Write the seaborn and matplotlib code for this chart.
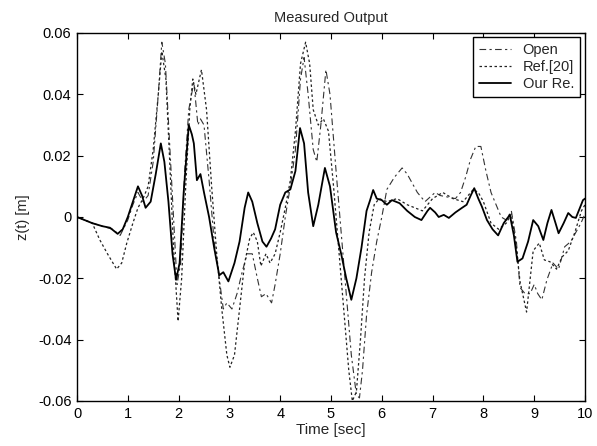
import numpy as np
import pandas as pd
import matplotlib
matplotlib.use("Agg")
import matplotlib.pyplot as plt
import seaborn as sns

# ---------------- data ----------------
t_our = [0, 0.3, 0.5, 0.65, 0.8, 0.9, 1.0, 1.1, 1.2, 1.28, 1.35, 1.45, 1.55, 1.65, 1.72,
         1.8, 1.88, 1.95, 2.02, 2.1, 2.2, 2.26, 2.3, 2.36, 2.43, 2.5, 2.6, 2.7, 2.8, 2.88,
         2.98, 3.1, 3.2, 3.3, 3.37, 3.45, 3.55, 3.65, 3.73, 3.82, 3.9, 4.0, 4.1, 4.2, 4.3,
         4.39, 4.47, 4.55, 4.65, 4.75, 4.88, 4.98, 5.1, 5.2, 5.3, 5.4, 5.5, 5.6, 5.7, 5.77,
         5.83, 5.9, 6.0, 6.1, 6.2, 6.35, 6.5, 6.65, 6.78, 6.9, 6.95, 7.05, 7.12, 7.22, 7.32,
         7.45, 7.58, 7.67, 7.75, 7.82, 7.9, 7.97, 8.07, 8.18, 8.29, 8.4, 8.52, 8.6, 8.67,
         8.77, 8.88, 8.98, 9.08, 9.18, 9.26, 9.34, 9.42, 9.48, 9.58, 9.67, 9.75, 9.82, 9.9,
         9.96, 10.0]
z_our = [0, -0.002, -0.003, -0.0035, -0.0055, -0.004, 0.0, 0.005, 0.010, 0.007, 0.003,
         0.005, 0.014, 0.024, 0.018, 0.005, -0.012, -0.0205, -0.015, 0.008, 0.030, 0.027,
         0.024, 0.012, 0.014, 0.008, 0.000, -0.010, -0.019, -0.018, -0.021, -0.015, -0.008,
         0.003, 0.008, 0.005, -0.002, -0.008, -0.0097, -0.007, -0.004, 0.004, 0.008, 0.009,
         0.015, 0.029, 0.024, 0.008, -0.003, 0.004, 0.016, 0.010, -0.005, -0.012, -0.020,
         -0.027, -0.020, -0.010, 0.002, 0.0055, 0.0088, 0.006, 0.0055, 0.004, 0.0055,
         0.0045, 0.002, 0.000, -0.001, 0.002, 0.003, 0.0015, 0.000, 0.0007, -0.0003,
         0.0015, 0.003, 0.004, 0.007, 0.0094, 0.006, 0.0034, -0.001, -0.004, -0.006,
         -0.002, 0.0007, -0.006, -0.0146, -0.0135, -0.008, -0.001, -0.003, -0.0075, -0.002,
         0.0023, -0.002, -0.0053, -0.002, 0.0013, 0.000, -0.0003, 0.003, 0.0055, 0.006]

t_open = [0, 0.3, 0.5, 0.7, 0.85, 1.0, 1.1, 1.2, 1.3, 1.4, 1.5, 1.6, 1.67, 1.74, 1.82, 1.9,
          1.97, 2.04, 2.12, 2.2, 2.3, 2.38, 2.43, 2.5, 2.6, 2.7, 2.8, 2.88, 2.95, 3.05, 3.15,
          3.25, 3.35, 3.45, 3.55, 3.63, 3.72, 3.83, 3.9, 4.0, 4.1, 4.2, 4.3, 4.4, 4.47, 4.55,
          4.65, 4.72, 4.8, 4.9, 4.98, 5.1, 5.2, 5.3, 5.4, 5.5, 5.56, 5.62, 5.7, 5.8, 5.9, 6.0,
          6.1, 6.25, 6.4, 6.5, 6.6, 6.7, 6.85, 6.95, 7.05, 7.15, 7.3, 7.45, 7.55, 7.65, 7.75,
          7.85, 7.95, 8.05, 8.15, 8.25, 8.35, 8.45, 8.55, 8.65, 8.72, 8.82, 8.92, 9.0, 9.07,
          9.15, 9.25, 9.37, 9.48, 9.6, 9.72, 9.82, 9.92, 10.0]
z_open = [0, -0.002, -0.003, -0.004, -0.006, -0.001, 0.004, 0.008, 0.005, 0.007, 0.018,
          0.040, 0.057, 0.050, 0.025, 0.000, -0.022, -0.015, 0.015, 0.035, 0.044, 0.030,
          0.032, 0.030, 0.012, -0.008, -0.020, -0.030, -0.028, -0.030, -0.025, -0.018,
          -0.012, -0.012, -0.020, -0.026, -0.025, -0.028, -0.022, -0.012, 0.000, 0.010,
          0.022, 0.045, 0.052, 0.040, 0.022, 0.018, 0.030, 0.048, 0.040, 0.015, -0.005,
          -0.025, -0.045, -0.058, -0.059, -0.050, -0.032, -0.018, -0.008, 0.000, 0.009,
          0.013, 0.016, 0.014, 0.011, 0.008, 0.005, 0.0065, 0.008, 0.007, 0.0065, 0.006,
          0.008, 0.013, 0.019, 0.023, 0.023, 0.015, 0.008, 0.004, 0.000, -0.001, 0.002,
          -0.008, -0.023, -0.025, -0.025, -0.022, -0.025, -0.027, -0.0205, -0.015, -0.017,
          -0.0097, -0.008, -0.005, -0.002, 0.001]

t_ref = [0, 0.3, 0.45, 0.6, 0.78, 0.88, 0.98, 1.1, 1.2, 1.3, 1.4, 1.5, 1.6, 1.67, 1.75,
         1.82, 1.9, 1.99, 2.06, 2.14, 2.22, 2.28, 2.34, 2.45, 2.55, 2.65, 2.75, 2.85, 2.95,
         3.01, 3.1, 3.2, 3.3, 3.4, 3.47, 3.55, 3.62, 3.72, 3.8, 3.9, 4.0, 4.1, 4.2, 4.3, 4.4,
         4.5, 4.58, 4.65, 4.75, 4.85, 4.95, 5.05, 5.15, 5.25, 5.35, 5.42, 5.5, 5.58, 5.66,
         5.75, 5.85, 5.95, 6.1, 6.3, 6.5, 6.8, 7.0, 7.2, 7.4, 7.6, 7.8, 7.9, 8.0, 8.15, 8.3,
         8.45, 8.55, 8.65, 8.72, 8.85, 8.98, 9.1, 9.2, 9.31, 9.44, 9.55, 9.67, 9.8, 9.93,
         10.0]
z_ref = [0, -0.002, -0.0075, -0.012, -0.017, -0.015, -0.0085, -0.002, 0.003, 0.006, 0.010,
         0.022, 0.040, 0.054, 0.045, 0.020, -0.010, -0.034, -0.020, 0.010, 0.035, 0.045,
         0.040, 0.048, 0.035, 0.010, -0.012, -0.030, -0.045, -0.049, -0.045, -0.030,
         -0.015, -0.007, -0.005, -0.008, -0.016, -0.012, -0.015, -0.012, -0.005, 0.003,
         0.012, 0.028, 0.050, 0.057, 0.050, 0.035, 0.030, 0.032, 0.028, 0.010, -0.010,
         -0.030, -0.050, -0.060, -0.057, -0.040, -0.020, -0.005, 0.004, 0.006, 0.005,
         0.006, 0.004, 0.002, 0.006, 0.008, 0.006, 0.005, 0.009, 0.008, 0.005, -0.002,
         -0.004, -0.002, 0.001, -0.010, -0.021, -0.031, -0.011, -0.0085, -0.014, -0.0146,
         -0.017, -0.013, -0.011, -0.005, 0.002, 0.004]

x_ticks = [0, 1, 2, 3, 4, 5, 6, 7, 8, 9, 10]
y_ticks = [-0.06, -0.04, -0.02, 0, 0.02, 0.04, 0.06]
y_tick_labels = ["-0.06", "-0.04", "-0.02", "0", "0.02", "0.04", "0.06"]

# ---------------- style ----------------
sns.set_style("ticks")
plt.rcParams["font.family"] = ["Liberation Sans", "DejaVu Sans"]
plt.rcParams["xtick.direction"] = "in"
plt.rcParams["ytick.direction"] = "in"

df_open = pd.DataFrame({"t": t_open, "z": z_open})
df_ref = pd.DataFrame({"t": t_ref, "z": z_ref})
df_our = pd.DataFrame({"t": t_our, "z": z_our})

fig = plt.figure(figsize=(5.97, 4.46), dpi=100)
ax = fig.add_axes([77 / 597, 45 / 446, 508 / 597, 368 / 446])

sns.lineplot(data=df_open, x="t", y="z", ax=ax, sort=False, estimator=None,
             color="#333333", lw=0.8, label="Open")
sns.lineplot(data=df_ref, x="t", y="z", ax=ax, sort=False, estimator=None,
             color="#222222", lw=0.9, label="Ref.[20]")
sns.lineplot(data=df_our, x="t", y="z", ax=ax, sort=False, estimator=None,
             color="black", lw=1.3, label="Our Re.")
ax.lines[0].set_linestyle((0, (6, 3, 2, 3)))
ax.lines[1].set_linestyle((0, (2, 2)))

ax.set_xlim(0, 10)
ax.set_ylim(-0.06, 0.06)
ax.set_xticks(x_ticks)
ax.set_yticks(y_ticks)
ax.set_yticklabels(y_tick_labels)
ax.tick_params(axis="both", which="both", top=True, right=True, length=4,
               width=0.8, labelsize=10.5, colors="black", pad=4)
for s in ax.spines.values():
    s.set_visible(True)
    s.set_linewidth(1.0)
    s.set_color("black")

ax.set_title("Measured Output", fontsize=10.5, pad=8)
ax.set_xlabel("Time [sec]", fontsize=11, labelpad=2)
ax.set_ylabel("z(t) [m]", fontsize=10.5, labelpad=6)

leg = ax.legend(loc="upper right", bbox_to_anchor=(0.990, 0.989), borderaxespad=0,
                fontsize=10.5, frameon=True, fancybox=False, handlelength=2.2,
                borderpad=0.4, labelspacing=0.2, handletextpad=0.8)
leg.get_frame().set_edgecolor("black")
leg.get_frame().set_linewidth(1.0)
leg.get_frame().set_alpha(1)

fig.savefig("out.png", dpi=100)
